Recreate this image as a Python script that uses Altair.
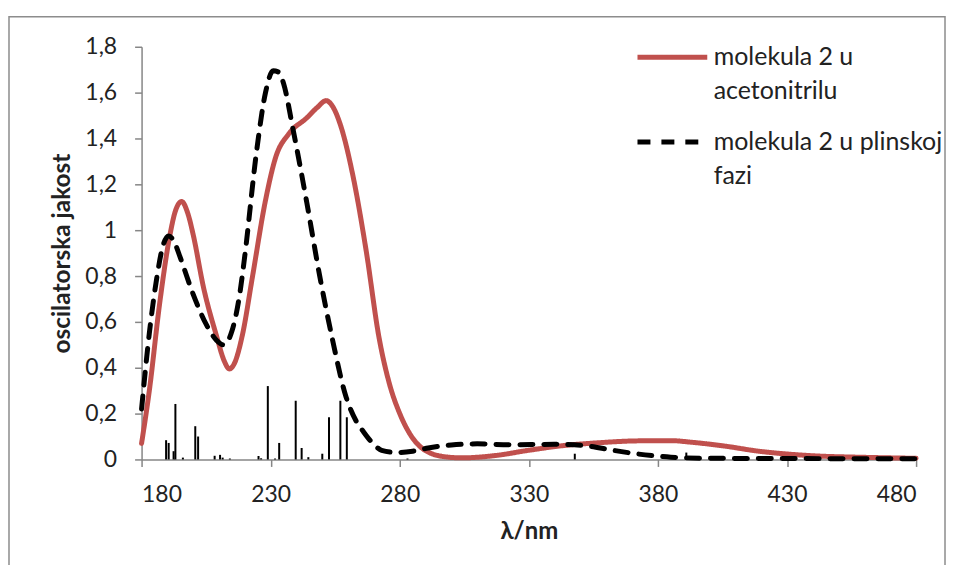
import altair as alt
import pandas as pd

# ---- data ----
series_names = ["molekula 2 u acetonitrilu", "molekula 2 u plinskoj fazi"]
legend_lines = [["molekula 2 u", "acetonitrilu"], ["molekula 2 u plinskoj", "fazi"]]
series_colors = ["#C0504D", "#000000"]

red_nm = [180, 183, 187, 191, 193, 195.5, 198, 200, 204, 209, 212, 214, 216, 219, 223, 228,
          232, 237, 244, 248, 251.5, 254, 257, 262, 267, 272, 276, 280, 284, 288, 292, 296,
          304, 317, 330, 343, 356, 372, 385, 393, 406, 419, 432, 444, 457, 480]
red_f = [0.07, 0.30, 0.68, 0.98, 1.08, 1.125, 1.07, 0.98, 0.75, 0.54, 0.43, 0.395, 0.42, 0.54,
         0.80, 1.13, 1.32, 1.42, 1.49, 1.535, 1.565, 1.54, 1.46, 1.23, 0.91, 0.53, 0.33, 0.20,
         0.11, 0.055, 0.027, 0.014, 0.007, 0.017, 0.04, 0.06, 0.072, 0.081, 0.082, 0.075, 0.058,
         0.036, 0.022, 0.014, 0.01, 0.005]

gas_nm = [180, 183, 186, 188, 190.5, 193, 195, 200, 205, 209, 211.5, 213, 215, 218, 220, 224.5,
          228, 231, 233, 235, 238.5, 244, 249, 254, 259, 263, 266, 270, 273, 279, 285, 291, 300,
          310, 323, 340, 352, 362, 375, 385, 400, 480]
gas_f = [0.22, 0.55, 0.80, 0.92, 0.975, 0.94, 0.88, 0.72, 0.59, 0.52, 0.50, 0.51, 0.56, 0.72,
         0.89, 1.34, 1.60, 1.695, 1.69, 1.64, 1.45, 1.12, 0.80, 0.52, 0.28, 0.17, 0.12, 0.065,
         0.04, 0.03, 0.036, 0.05, 0.063, 0.068, 0.064, 0.066, 0.06, 0.041, 0.02, 0.01, 0.005,
         0.003]

stick_nm = [189.5, 190.5, 192.4, 193.1, 196, 200.8, 201.9, 208.3, 210.4, 211.4, 214.2, 225.3,
            226.3, 228.9, 231.7, 233.3, 239.7, 242.0, 244.6, 250.0, 252.6, 257.0, 259.5, 283.0,
            347.8, 391.0]
stick_f = [0.084, 0.072, 0.036, 0.242, 0.008, 0.145, 0.10, 0.016, 0.02, 0.008, 0.004, 0.015,
           0.005, 0.32, 0.004, 0.072, 0.256, 0.05, 0.01, 0.025, 0.184, 0.256, 0.184, 0.004,
           0.025, 0.03]

x_ticks = [180, 230, 280, 330, 380, 430, 480]
y_ticks = [0, 0.2, 0.4, 0.6, 0.8, 1.0, 1.2, 1.4, 1.6, 1.8]

FONT = "Lato"
GREY = "#868686"
TEXT = "#222222"

curves = pd.DataFrame({
    "nm": red_nm + gas_nm,
    "f": red_f + gas_f,
    "serija": [series_names[0]] * len(red_nm) + [series_names[1]] * len(gas_nm),
    "ord": list(range(len(red_nm))) + list(range(len(gas_nm))),
})
sticks = pd.DataFrame({"nm": stick_nm, "f": stick_f})

label_expr = "datum.label == '%s' ? %s : %s" % (
    series_names[0],
    "[" + ", ".join("'%s'" % s for s in legend_lines[0]) + "]",
    "[" + ", ".join("'%s'" % s for s in legend_lines[1]) + "]",
)

legend = alt.Legend(
    title=None, orient="none", legendX=495, legendY=-27, symbolType="stroke",
    symbolSize=4900, symbolStrokeWidth=5, labelExpr=label_expr, labelFontSize=25,
    labelFont=FONT, labelColor=TEXT, labelOffset=4, labelBaseline="middle",
    rowPadding=-4, padding=0, labelLimit=400,
)

x_enc = alt.X("nm:Q", scale=alt.Scale(domain=[180, 480], nice=False),
              axis=alt.Axis(values=x_ticks, title="λ/nm", grid=False, tickSize=7,
                            labelPadding=17, titleFontWeight="bold", titleFontSize=24,
                            titleY=72, titleBaseline="middle"))
y_enc = alt.Y("f:Q", scale=alt.Scale(domain=[0, 1.8], nice=False),
              axis=alt.Axis(values=y_ticks, title="oscilatorska jakost", grid=False,
                            tickSize=7, labelPadding=18,
                            labelExpr="replace(format(datum.value, '~g'), '.', ',')",
                            titleFontWeight="bold", titleFontSize=24.5, titleX=-79,
                            titleY=207, titleBaseline="middle"))

frame = alt.Chart(pd.DataFrame({"a": [0]})).mark_rect(
    filled=False, stroke="#8c8c8c", strokeWidth=1.5
).encode(x=alt.value(-133), x2=alt.value(806), y=alt.value(-30), y2=alt.value(560))

stick_layer = alt.Chart(sticks).mark_rule(color="black", strokeWidth=2).encode(
    x=x_enc, y=y_enc, y2=alt.datum(0)
)

line_layer = alt.Chart(curves).mark_line(strokeWidth=5, interpolate="monotone",
                                         strokeCap="round").encode(
    x=x_enc, y=y_enc,
    order="ord:Q",
    color=alt.Color("serija:N", scale=alt.Scale(domain=series_names, range=series_colors),
                    legend=legend),
    strokeDash=alt.StrokeDash("serija:N",
                              scale=alt.Scale(domain=series_names, range=[[1, 0], [13, 11]]),
                              legend=legend),
)

chart = alt.layer(frame, stick_layer, line_layer).properties(
    width=777, height=414,
    autosize=alt.AutoSizeParams(type="none"),
    padding={"left": 134, "top": 38, "right": 30, "bottom": 105},
).configure(
    style={"guide-label": {"lineHeight": 34}},
    view=alt.ViewConfig(stroke=None),
    axis=alt.AxisConfig(
        domainColor=GREY, tickColor=GREY, labelFont=FONT, titleFont=FONT, labelFontSize=23,
        labelColor=TEXT, titleColor=TEXT, domainWidth=1.5, tickWidth=1.5,
    ),
)

chart.save("out.html", embed_options={"renderer": "svg", "actions": False})
